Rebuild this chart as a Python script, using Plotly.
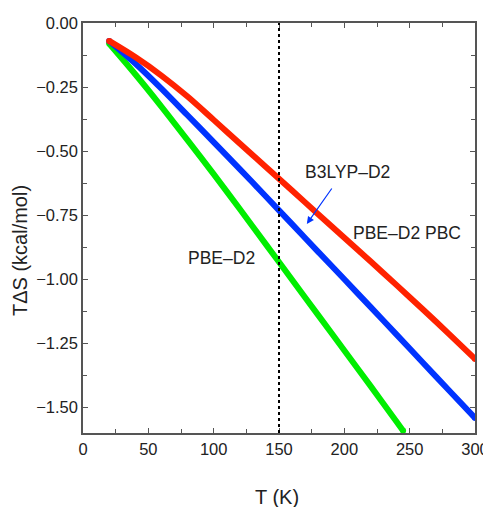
import plotly.graph_objects as go

T_red = [20, 40, 60, 80, 100, 120, 140, 160, 180, 200, 220, 240, 260, 280, 300]
pbc_red = [-0.07, -0.133, -0.205, -0.287, -0.378, -0.47, -0.562, -0.654, -0.746, -0.838, -0.93, -1.023, -1.117, -1.213, -1.311]

T_blue = [20, 40, 60, 80, 100, 120, 140, 160, 180, 200, 220, 240, 260, 280, 300]
b3lyp_blue = [-0.07, -0.158, -0.256, -0.36, -0.465, -0.57, -0.677, -0.785, -0.893, -1.0, -1.108, -1.216, -1.325, -1.433, -1.541]

T_green = [20, 40, 60, 80, 100, 120, 140, 160, 180, 200, 220, 240, 245]
pbe_green = [-0.08, -0.2, -0.326, -0.457, -0.59, -0.726, -0.864, -1.002, -1.14, -1.278, -1.416, -1.556, -1.591]

x_ticks = [0, 50, 100, 150, 200, 250, 300]
x_tick_labels = ["0", "50", "100", "150", "200", "250", "300"]
y_ticks = [0.0, -0.25, -0.5, -0.75, -1.0, -1.25, -1.5]
y_tick_labels = ["0.00", "\u22120.25", "\u22120.50", "\u22120.75", "\u22121.00", "\u22121.25", "\u22121.50"]

RED = "#ff2200"
BLUE = "#0033ff"
GREEN = "#00ee00"
TEXT = "#222222"
AXIS = "#555555"
font_family = "Liberation Sans, Arial, sans-serif"

fig = go.Figure()
for xs, ys, c in [(T_green, pbe_green, GREEN), (T_blue, b3lyp_blue, BLUE), (T_red, pbc_red, RED)]:
    fig.add_trace(go.Scatter(x=xs, y=ys, mode="lines", line=dict(color=c, width=6, shape="spline", smoothing=0.8),
                             showlegend=False, hoverinfo="skip"))
    fig.add_trace(go.Scatter(x=[xs[0], xs[-1]], y=[ys[0], ys[-1]], mode="markers",
                             marker=dict(color=c, size=6), showlegend=False, hoverinfo="skip"))

fig.add_shape(type="line", x0=150, x1=150, y0=-1.6, y1=0, xref="x", yref="y",
              line=dict(color="black", width=2, dash="dot"))

fig.add_annotation(x=202.7, y=-0.581, text="B3LYP\u2013D2", showarrow=False,
                   font=dict(size=17.5, color=TEXT, family=font_family))
fig.add_annotation(x=171.3, y=-0.784, ax=191.2, ay=-0.640, axref="x", ayref="y",
                   text="", showarrow=True, arrowhead=2, arrowsize=1.2, arrowwidth=1.2,
                   arrowcolor=BLUE)
fig.add_annotation(x=247.7, y=-0.82, text="PBE\u2013D2 PBC", showarrow=False,
                   font=dict(size=17.5, color=TEXT, family=font_family))
fig.add_annotation(x=106, y=-0.917, text="PBE\u2013D2", showarrow=False,
                   font=dict(size=17.5, color=TEXT, family=font_family))

# axis titles
fig.add_annotation(xref="paper", yref="paper", x=0.496, y=-0.155, text="T (K)", showarrow=False,
                   xanchor="center", yanchor="middle", font=dict(size=20, color=TEXT, family=font_family))
fig.add_annotation(xref="paper", yref="paper", x=-0.162, y=0.445, text="T\u0394S (kcal/mol)", showarrow=False,
                   textangle=-90, xanchor="center", yanchor="middle",
                   font=dict(size=20, color=TEXT, family=font_family))

axis_common = dict(showgrid=False, zeroline=False, showline=True, linecolor=AXIS, linewidth=1.5,
                   mirror="ticks", ticks="inside", ticklen=5, tickwidth=1.2, tickcolor=AXIS,
                   automargin=False,
                   tickfont=dict(size=16.5, color=TEXT, family=font_family))

fig.update_xaxes(range=[0, 300], tickvals=x_ticks, ticktext=x_tick_labels,
                 minor=dict(ticks="inside", ticklen=4, tickwidth=1.2, tickcolor=AXIS, dtick=25, tick0=0),
                 **axis_common)
fig.update_yaxes(range=[-1.6, 0], tickvals=y_ticks, ticktext=y_tick_labels,
                 minor=dict(ticks="inside", ticklen=4, tickwidth=1.2, tickcolor=AXIS, dtick=0.125, tick0=0),
                 **axis_common)

# page body adds an 8 px offset, so margins are shifted accordingly
fig.update_layout(width=491, height=499, margin=dict(l=75, r=24, t=15, b=74),
                  plot_bgcolor="white", paper_bgcolor="white")

fig.write_html("out.html")
